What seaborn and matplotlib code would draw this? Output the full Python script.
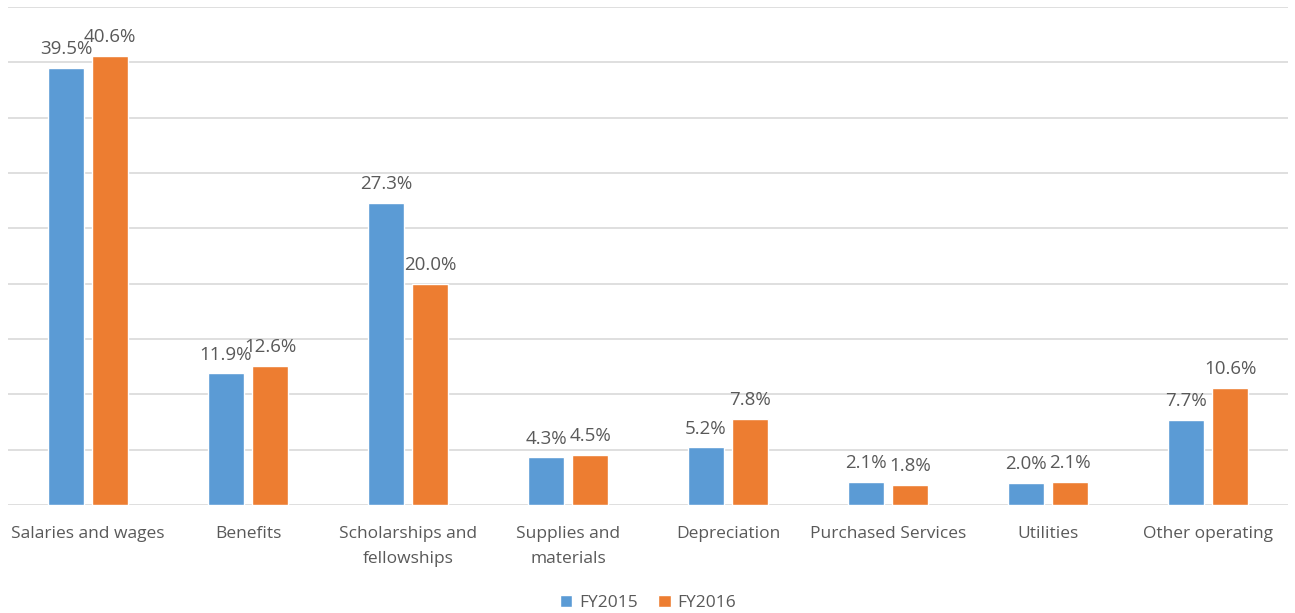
import pandas as pd
import matplotlib.pyplot as plt
import seaborn as sns

# 데이터
categories = ["Salaries and wages", "Benefits", "Scholarships and\nfellowships",
              "Supplies and\nmaterials", "Depreciation", "Purchased Services",
              "Utilities", "Other operating"]
fy2015 = [39.5, 11.9, 27.3, 4.3, 5.2, 2.1, 2.0, 7.7]
fy2016 = [40.6, 12.6, 20.0, 4.5, 7.8, 1.8, 2.1, 10.6]
years = ["FY2015", "FY2016"]
colors = ["#5B9BD5", "#ED7D31"]

df = pd.DataFrame({"category": categories * 2,
                   "year": [years[0]] * len(categories) + [years[1]] * len(categories),
                   "value": fy2015 + fy2016})

sns.set_style("white")
plt.rcParams["font.family"] = ["Open Sans", "DejaVu Sans"]
text_color = "#595959"

fig = plt.figure(figsize=(12.95, 6.13), dpi=100)
ax = fig.add_axes([8 / 1295, 108 / 613, 1280 / 1295, 498 / 613])

sns.barplot(data=df, x="category", y="value", hue="year", palette=colors,
            width=0.55, gap=0.2, saturation=1, ax=ax)

for container in ax.containers:
    ax.bar_label(container, labels=[f"{v:.1f}%" for v in container.datavalues],
                 padding=7, fontsize=13.5, color=text_color)

ax.set_ylim(0, 45)
ax.set_yticks(range(0, 46, 5))
ax.set_yticklabels([])
ax.tick_params(axis="y", length=0)
ax.tick_params(axis="x", length=0, labelsize=12.5, labelcolor=text_color, pad=15)
for lbl in ax.get_xticklabels():
    lbl.set_linespacing(1.75)
ax.grid(axis="y", color="#D9D9D9", linewidth=1.2)
ax.set_axisbelow(True)
ax.set_xlim(-0.5, len(categories) - 0.5)
ax.set_xlabel("")
ax.set_ylabel("")
sns.despine(ax=ax, left=True, bottom=True, top=True, right=True)

ax.legend(loc="lower center", bbox_to_anchor=(0.5, -0.245), ncol=2, frameon=False,
          fontsize=12.5, labelcolor=text_color, handlelength=0.7, handleheight=0.7,
          handletextpad=0.4, columnspacing=1.2)

fig.savefig("out.png", dpi=100)
